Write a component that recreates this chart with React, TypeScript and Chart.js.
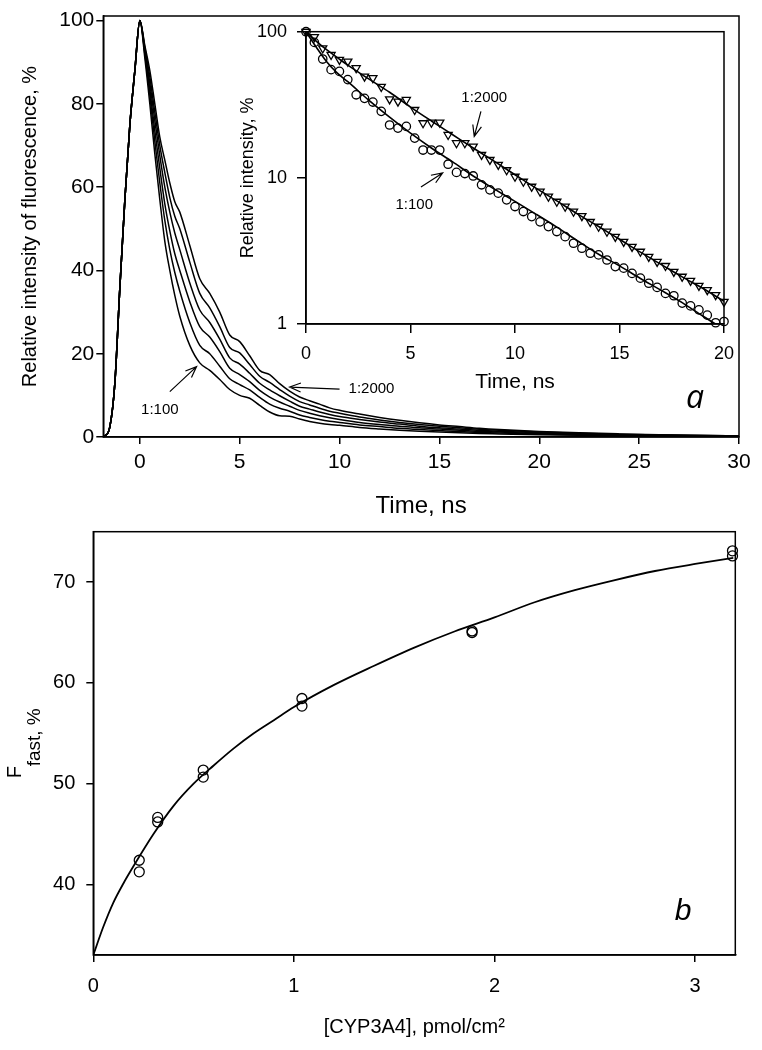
import React, { useEffect, useRef } from 'react';
import { Chart, registerables } from 'chart.js';

Chart.register(...registerables);

const FONT = "'Liberation Sans', Arial, Helvetica, sans-serif";
const NARROW_FONT = "'Liberation Sans Narrow', 'Arial Narrow', 'Liberation Sans', Arial, sans-serif";
const ITALIC_A_FONT = "'Open Sans', 'Liberation Sans', sans-serif";

// ---------------- Panel a: fluorescence decay curves ----------------
const RISE_TIME = [-2, -1.75, -1.5, -1.25, -1, -0.75, -0.5, -0.25];
const RISE_VALUES = [0, 0.3, 2.5, 13, 36, 57, 75, 88];

const DECAY_TIME = [0, 0.25, 0.5, 0.75, 1, 1.25, 1.5, 1.75, 2, 2.5, 3, 3.5, 4, 4.5, 5, 5.5, 6, 6.5, 7, 7.5, 8, 8.5, 9, 9.5, 10, 11, 12, 13, 14, 15, 16, 17, 18, 20, 22, 24, 26, 28, 30];
const DECAY_1_100 = [100, 91, 80, 68, 57, 47, 40, 34, 29, 22, 17.8, 16.0, 13.8, 11.4, 10.0, 9.3, 7.6, 6.0, 5.1, 5.0, 4.3, 3.7, 3.3, 3.0, 2.8, 2.3, 1.95, 1.65, 1.4, 1.2, 1.0, 0.85, 0.75, 0.55, 0.4, 0.3, 0.22, 0.15, 0.1];
const DECAY_B = [100, 92, 82, 71, 61, 52, 45, 39.5, 35, 27.5, 22, 20, 17, 14, 12.6, 11.3, 9.5, 7.9, 6.9, 6.2, 5.3, 4.7, 4.2, 3.8, 3.5, 2.9, 2.5, 2.1, 1.8, 1.55, 1.3, 1.1, 0.95, 0.7, 0.5, 0.4, 0.28, 0.2, 0.14];
const DECAY_C = [100, 92.5, 83.5, 73.5, 64.5, 56, 49.5, 44, 40, 32.5, 26.5, 24, 20.5, 16.5, 15.0, 13.3, 11.2, 9.6, 8.4, 7.4, 6.4, 5.7, 5.1, 4.6, 4.2, 3.5, 3.0, 2.6, 2.2, 1.9, 1.6, 1.35, 1.2, 0.85, 0.65, 0.45, 0.34, 0.25, 0.18];
const DECAY_D = [100, 93, 85, 76, 67.5, 60, 54, 49, 45, 37, 30.5, 27.5, 23.5, 19, 17.5, 15.3, 12.9, 11.3, 9.9, 8.6, 7.4, 6.7, 6.0, 5.4, 4.9, 4.2, 3.6, 3.1, 2.6, 2.2, 1.9, 1.6, 1.4, 1.0, 0.75, 0.55, 0.4, 0.3, 0.22];
const DECAY_E = [100, 93.5, 86.5, 78, 70, 63.5, 57.5, 53, 50, 42, 34.5, 31, 26.5, 21.5, 20.2, 17.4, 14.6, 13.1, 11.4, 9.8, 8.5, 7.7, 6.9, 6.2, 5.7, 4.8, 4.1, 3.5, 3.0, 2.6, 2.2, 1.85, 1.6, 1.2, 0.9, 0.65, 0.48, 0.35, 0.26];
const DECAY_1_2000 = [100, 94, 88, 80, 72, 66.5, 61, 56.5, 54, 46, 38, 34.5, 30, 24.5, 22.9, 19.5, 16.0, 15.0, 12.8, 11.0, 9.6, 8.7, 7.9, 7.0, 6.4, 5.5, 4.7, 4.0, 3.4, 2.9, 2.5, 2.1, 1.8, 1.35, 1.0, 0.75, 0.55, 0.4, 0.3];
const DECAY_SERIES = [DECAY_1_100, DECAY_B, DECAY_C, DECAY_D, DECAY_E, DECAY_1_2000];

const MAIN_X_TICKS = [0, 5, 10, 15, 20, 25, 30];
const MAIN_Y_TICKS = [0, 20, 40, 60, 80, 100];

// ---------------- Panel a inset: semi-log decays ----------------
const INSET_TIME = [0, 0.4, 0.8, 1.2, 1.6, 2.0, 2.4, 2.8, 3.2, 3.6, 4.0, 4.4, 4.8, 5.2, 5.6, 6.0, 6.4, 6.8, 7.2, 7.6, 8.0, 8.4, 8.8, 9.2, 9.6, 10.0, 10.4, 10.8, 11.2, 11.6, 12.0, 12.4, 12.8, 13.2, 13.6, 14.0, 14.4, 14.8, 15.2, 15.6, 16.0, 16.4, 16.8, 17.2, 17.6, 18.0, 18.4, 18.8, 19.2, 19.6, 20.0];
const INSET_1_100 = [100, 84.5, 65, 55, 53.5, 47, 37, 35, 33, 28.5, 23, 21.9, 22.5, 18.7, 15.5, 15.5, 15.5, 12.4, 10.9, 10.7, 10.3, 8.96, 8.28, 7.86, 7.07, 6.36, 5.88, 5.43, 5.0, 4.64, 4.29, 3.96, 3.57, 3.3, 3.05, 2.97, 2.74, 2.47, 2.41, 2.22, 2.06, 1.9, 1.78, 1.62, 1.56, 1.39, 1.33, 1.25, 1.15, 1.02, 1.04];
const INSET_1_2000 = [100, 92, 77, 69.5, 64.3, 62.6, 56.4, 49.4, 48.2, 42, 34.5, 33.3, 34.2, 29.2, 23.7, 23.9, 23.9, 19.7, 17.3, 17.3, 16.4, 14.4, 13.3, 12.3, 11.3, 10.2, 9.43, 8.71, 8.06, 7.45, 6.88, 6.36, 5.88, 5.49, 5.0, 4.64, 4.29, 3.96, 3.66, 3.38, 3.13, 2.89, 2.67, 2.5, 2.28, 2.11, 1.98, 1.83, 1.71, 1.58, 1.42];
const FIT_TIME = [0, 0.5, 1, 1.5, 2, 3, 4, 5, 6, 7, 8, 9, 10, 11, 12, 13, 14, 15, 16, 17, 18, 19, 20];
const FIT_1_100 = [100, 78, 62, 52, 45.5, 34, 26, 20.2, 16, 12.9, 10.3, 8.4, 6.9, 5.65, 4.6, 3.7, 3.0, 2.5, 2.05, 1.7, 1.4, 1.13, 0.92];
const FIT_1_2000 = [100, 86, 75, 66.5, 59, 47.5, 38.5, 30.5, 24.5, 19.8, 16.0, 13.0, 10.5, 8.5, 6.95, 5.65, 4.65, 3.8, 3.1, 2.55, 2.1, 1.75, 1.43];
const INSET_X_TICKS = [0, 5, 10, 15, 20];
const INSET_Y_TICKS = [1, 10, 100];

// ---------------- Panel b: F_fast vs CYP3A4 ----------------
const CYP_CONC = [0.229, 0.229, 0.321, 0.321, 0.548, 0.548, 1.04, 1.04, 1.888, 1.888, 3.186, 3.186];
const F_FAST = [42.4, 41.25, 46.65, 46.2, 51.35, 50.65, 58.45, 57.7, 65.15, 65.0, 73.1, 72.6];
const CYP_FIT = [0, 0.05, 0.1, 0.15, 0.2, 0.3, 0.4, 0.5, 0.6, 0.7, 0.8, 0.9, 1.0, 1.2, 1.4, 1.6, 1.8, 2.0, 2.2, 2.4, 2.6, 2.8, 3.0, 3.19];
const F_FAST_FIT = [33.0, 35.8, 38.2, 40.1, 41.8, 45.0, 47.8, 50.0, 51.8, 53.5, 55.0, 56.3, 57.6, 59.8, 61.7, 63.5, 65.1, 66.5, 68.0, 69.2, 70.2, 71.1, 71.8, 72.4];
const B_X_TICKS = [0, 1, 2, 3];
const B_Y_TICKS = [40, 50, 60, 70];

// ---------------- helpers ----------------
type Note = { x: number; y: number; text: string; font: string; align?: CanvasTextAlign; baseline?: CanvasTextBaseline };
type Arrow = { x1: number; y1: number; x2: number; y2: number };

const pts = (xs: number[], ys: number[]) => xs.map((x, i) => ({ x, y: ys[i] }));

const framePlugin = {
  id: 'frame',
  afterDraw(chart: any) {
    const { ctx, chartArea: a } = chart;
    ctx.save();
    ctx.strokeStyle = '#000';
    ctx.lineWidth = 1.5;
    ctx.strokeRect(a.left, a.top, a.right - a.left, a.bottom - a.top);
    ctx.restore();
  },
};

function notesPlugin(id: string, notes: Note[], arrows: Arrow[]) {
  return {
    id,
    afterDraw(chart: any) {
      const { ctx } = chart;
      const sx = chart.scales.x;
      const sy = chart.scales.y;
      ctx.save();
      ctx.fillStyle = '#000';
      ctx.strokeStyle = '#000';
      ctx.lineWidth = 1.2;
      for (const n of notes) {
        ctx.font = n.font;
        ctx.textAlign = n.align || 'center';
        ctx.textBaseline = n.baseline || 'middle';
        ctx.fillText(n.text, sx.getPixelForValue(n.x), sy.getPixelForValue(n.y));
      }
      for (const a of arrows) {
        const x1 = sx.getPixelForValue(a.x1);
        const y1 = sy.getPixelForValue(a.y1);
        const x2 = sx.getPixelForValue(a.x2);
        const y2 = sy.getPixelForValue(a.y2);
        const ang = Math.atan2(y2 - y1, x2 - x1);
        const len = 12;
        const spread = 0.38;
        ctx.beginPath();
        ctx.moveTo(x1, y1);
        ctx.lineTo(x2, y2);
        ctx.moveTo(x2 - len * Math.cos(ang - spread), y2 - len * Math.sin(ang - spread));
        ctx.lineTo(x2, y2);
        ctx.lineTo(x2 - len * Math.cos(ang + spread), y2 - len * Math.sin(ang + spread));
        ctx.stroke();
      }
      ctx.restore();
    },
  };
}

function axis(opts: {
  type?: string;
  min: number;
  max: number;
  ticks: number[];
  size: number; // width for y, height for x
  isX: boolean;
  tickLength: number;
  tickPadding: number;
  tickFont: any;
  title: string;
  titleFont: any;
  titlePad: number;
}) {
  return {
    type: opts.type || 'linear',
    min: opts.min,
    max: opts.max,
    afterBuildTicks: (s: any) => {
      s.ticks = opts.ticks.map((v) => ({ value: v }));
    },
    afterFit: (s: any) => {
      if (opts.isX) s.height = opts.size;
      else s.width = opts.size;
      s.paddingLeft = 0;
      s.paddingRight = 0;
      s.paddingTop = 0;
      s.paddingBottom = 0;
    },
    grid: {
      display: true,
      drawOnChartArea: false,
      drawTicks: true,
      tickLength: opts.tickLength,
      color: '#000',
      lineWidth: 1.5,
    },
    border: { display: true, color: '#000', width: 1.5 },
    ticks: {
      color: '#000',
      font: opts.tickFont,
      padding: opts.tickPadding,
      autoSkip: false,
      maxRotation: 0,
      minRotation: 0,
      callback: (v: any) => String(v),
    },
    title: {
      display: true,
      text: opts.title,
      color: '#000',
      font: opts.titleFont,
      padding: opts.isX ? { top: 0, bottom: opts.titlePad } : { top: opts.titlePad, bottom: 0 },
    },
  };
}

const baseOptions = (padding: any) => ({
  responsive: false,
  maintainAspectRatio: false,
  animation: false as const,
  events: [] as any[],
  layout: { padding },
  plugins: { legend: { display: false }, tooltip: { enabled: false } },
});

export default function App() {
  const mainRef = useRef<HTMLCanvasElement>(null);
  const insetRef = useRef<HTMLCanvasElement>(null);
  const bRef = useRef<HTMLCanvasElement>(null);

  useEffect(() => {
    const charts: Chart[] = [];

    // ----- main panel a -----
    const mainDatasets = DECAY_SERIES.map((series) => ({
      data: pts(RISE_TIME, RISE_VALUES).concat(pts(DECAY_TIME, series)),
      showLine: true,
      borderColor: '#000',
      borderWidth: 1.5,
      pointRadius: 0,
      cubicInterpolationMode: 'monotone' as const,
      fill: false,
    }));
    charts.push(
      new Chart(mainRef.current as HTMLCanvasElement, {
        type: 'scatter',
        data: { datasets: mainDatasets as any },
        options: {
          ...baseOptions({ top: 16, right: 23, left: 0, bottom: 0 }),
          scales: {
            x: axis({
              min: -1.83, max: 30, ticks: MAIN_X_TICKS, size: 93, isX: true,
              tickLength: 7, tickPadding: 6, tickFont: { family: FONT, size: 21 },
              title: 'Time, ns', titleFont: { family: FONT, size: 24 }, titlePad: 9,
            }),
            y: axis({
              min: 0, max: 101.1, ticks: MAIN_Y_TICKS, size: 103.3, isX: false,
              tickLength: 7, tickPadding: 2, tickFont: { family: FONT, size: 21 },
              title: 'Relative intensity of fluorescence, %', titleFont: { family: FONT, size: 20 }, titlePad: 18,
            }),
          } as any,
        },
        plugins: [
          framePlugin,
          notesPlugin(
            'mainNotes',
            [
              { x: 1.0, y: 6.55, text: '1:100', font: `15px ${FONT}` },
              { x: 10.45, y: 11.6, text: '1:2000', font: `15px ${FONT}`, align: 'left' },
              { x: 27.8, y: 7.0, text: 'a', font: `italic 32px ${ITALIC_A_FONT}`, baseline: 'alphabetic' },
            ],
            [
              { x1: 1.5, y1: 10.9, x2: 2.84, y2: 16.9 },
              { x1: 10.0, y1: 11.5, x2: 7.5, y2: 12.0 },
            ]
          ),
        ],
      } as any)
    );

    // ----- inset -----
    charts.push(
      new Chart(insetRef.current as HTMLCanvasElement, {
        type: 'scatter',
        data: {
          datasets: [
            {
              data: pts(FIT_TIME, FIT_1_100),
              showLine: true, borderColor: '#000', borderWidth: 1.6, pointRadius: 0,
              cubicInterpolationMode: 'monotone',
            },
            {
              data: pts(FIT_TIME, FIT_1_2000),
              showLine: true, borderColor: '#000', borderWidth: 1.6, pointRadius: 0,
              cubicInterpolationMode: 'monotone',
            },
            {
              data: pts(INSET_TIME, INSET_1_100),
              showLine: false, pointStyle: 'circle', pointRadius: 4.2,
              borderColor: '#000', borderWidth: 1.3, backgroundColor: 'rgba(0,0,0,0)', clip: false,
            },
            {
              data: pts(INSET_TIME, INSET_1_2000),
              showLine: false, pointStyle: 'triangle', rotation: 180, pointRadius: 4.7,
              borderColor: '#000', borderWidth: 1.3, backgroundColor: 'rgba(0,0,0,0)', clip: false,
            },
          ] as any,
        },
        options: {
          ...baseOptions({ top: 31.7, right: 16, left: 0, bottom: 0 }),
          scales: {
            x: axis({
              min: 0, max: 20, ticks: INSET_X_TICKS, size: 96, isX: true,
              tickLength: 9, tickPadding: 10, tickFont: { family: FONT, size: 18 },
              title: 'Time, ns', titleFont: { family: FONT, size: 21 }, titlePad: 25,
            }),
            y: axis({
              type: 'logarithmic', min: 1, max: 100, ticks: INSET_Y_TICKS, size: 106, isX: false,
              tickLength: 9, tickPadding: 10, tickFont: { family: FONT, size: 18 },
              title: 'Relative intensity, %', titleFont: { family: FONT, size: 18 }, titlePad: 37,
            }),
          } as any,
        },
        plugins: [
          framePlugin,
          notesPlugin(
            'insetNotes',
            [
              { x: 8.53, y: 35.2, text: '1:2000', font: `15px ${FONT}` },
              { x: 5.18, y: 6.53, text: '1:100', font: `15px ${FONT}` },
            ],
            [
              { x1: 8.37, y1: 28.5, x2: 8.05, y2: 19.2 },
              { x1: 5.5, y1: 8.67, x2: 6.54, y2: 10.8 },
            ]
          ),
        ],
      } as any)
    );

    // ----- panel b -----
    const fFastTitle = {
      id: 'fFastTitle',
      afterDraw(chart: any) {
        const { ctx, chartArea: a } = chart;
        const cy = (a.top + a.bottom) / 2;
        ctx.save();
        ctx.fillStyle = '#000';
        ctx.textAlign = 'left';
        ctx.textBaseline = 'alphabetic';
        ctx.save();
        ctx.translate(21, cy + 35);
        ctx.rotate(-Math.PI / 2);
        ctx.font = `20px ${FONT}`;
        ctx.fillText('F', 0, 0);
        ctx.restore();
        ctx.save();
        ctx.translate(40, cy + 23);
        ctx.rotate(-Math.PI / 2);
        ctx.font = `19px ${FONT}`;
        ctx.fillText('fast, %', 0, 0);
        ctx.restore();
        ctx.restore();
      },
    };
    charts.push(
      new Chart(bRef.current as HTMLCanvasElement, {
        type: 'scatter',
        data: {
          datasets: [
            {
              data: pts(CYP_FIT, F_FAST_FIT),
              showLine: true, borderColor: '#000', borderWidth: 1.8, pointRadius: 0,
              cubicInterpolationMode: 'monotone',
            },
            {
              data: pts(CYP_CONC, F_FAST),
              showLine: false, pointStyle: 'circle', pointRadius: 5,
              borderColor: '#000', borderWidth: 1.3, backgroundColor: 'rgba(0,0,0,0)', clip: false,
            },
          ] as any,
        },
        options: {
          ...baseOptions({ top: 11.7, right: 26.7, left: 0, bottom: 0 }),
          scales: {
            x: axis({
              min: 0, max: 3.2, ticks: B_X_TICKS, size: 95, isX: true,
              tickLength: 7, tickPadding: 12, tickFont: { family: NARROW_FONT, size: 20 },
              title: '[CYP3A4], pmol/cm²', titleFont: { family: FONT, size: 20 }, titlePad: 11,
            }),
            y: {
              ...axis({
                min: 33, max: 75, ticks: B_Y_TICKS, size: 93.3, isX: false,
                tickLength: 7, tickPadding: 11, tickFont: { family: NARROW_FONT, size: 20 },
                title: '', titleFont: { family: FONT, size: 19 }, titlePad: 0,
              }),
              title: { display: false },
            },
          } as any,
        },
        plugins: [
          framePlugin,
          fFastTitle,
          notesPlugin(
            'bNotes',
            [{ x: 2.94, y: 36.5, text: 'b', font: `italic 30px ${FONT}`, baseline: 'alphabetic' }],
            []
          ),
        ],
      } as any)
    );

    return () => charts.forEach((c) => c.destroy());
  }, []);

  return (
    <div style={{ position: 'absolute', left: 0, top: 0, width: 762, height: 1050, background: '#fff' }}>
      <canvas ref={mainRef} width={762} height={530} style={{ position: 'absolute', left: 0, top: 0 }} />
      <canvas ref={bRef} width={762} height={530} style={{ position: 'absolute', left: 0, top: 520 }} />
      <canvas ref={insetRef} width={540} height={420} style={{ position: 'absolute', left: 200, top: 0 }} />
    </div>
  );
}
